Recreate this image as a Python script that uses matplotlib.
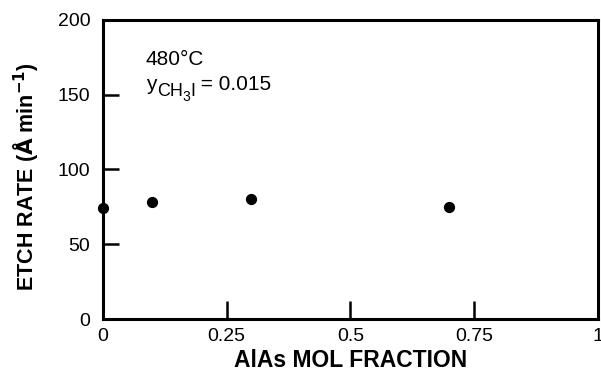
import matplotlib.pyplot as plt

# AlAs mol fraction vs etch rate at 480 C
alas_frac = [0.0, 0.1, 0.3, 0.7]
etch_rate = [74, 78.5, 80.5, 75]

x_ticks = [0, 0.25, 0.5, 0.75, 1]
x_tick_labels = ['0', '0.25', '0.5', '0.75', '1']
y_ticks = [0, 50, 100, 150, 200]

plt.rcParams['font.family'] = ['Liberation Sans', 'DejaVu Sans']

fig = plt.figure(figsize=(6.01, 3.74), dpi=100)
ax = fig.add_axes([0.171, 0.147, 0.824, 0.800])

ax.scatter(alas_frac, etch_rate, s=50, c='k', zorder=3, clip_on=False)

ax.set_xlim(0, 1)
ax.set_ylim(0, 200)
ax.set_xticks(x_ticks)
ax.set_xticklabels(x_tick_labels)
ax.set_yticks(y_ticks)
ax.tick_params(direction='in', width=1.8, labelsize=14)
ax.tick_params(axis='y', length=11.5, pad=9)
ax.tick_params(axis='x', length=13, pad=6.5)

for sp in ax.spines.values():
    sp.set_linewidth(2.2)

ax.set_xlabel('AlAs MOL FRACTION', fontsize=16.5, fontweight='bold')
ax.xaxis.set_label_coords(0.5, -0.176)
ax.xaxis.label.set_va('bottom')
ax.set_ylabel(r'ETCH RATE ($\mathbf{\AA}$ min$^{\mathbf{-1}}$)', fontsize=15.5,
              fontweight='bold')
ax.yaxis.set_label_coords(-0.125, 0.477)

ax.text(0.087, 0.85, '480°C', transform=ax.transAxes, fontsize=15, va='baseline')

# y_CH3I = 0.015, built piece by piece so the subscript stays large
t = ax.text(0.087, 0.766, 'y', transform=ax.transAxes, fontsize=15, va='baseline')
t = ax.annotate('CH', xy=(1, 0), xycoords=t, xytext=(0.3, -4.5),
                textcoords='offset points', fontsize=13, va='bottom')
t = ax.annotate('3', xy=(1, 0), xycoords=t, xytext=(0, -2.5),
                textcoords='offset points', fontsize=10, va='bottom')
t = ax.annotate('I', xy=(1, 0), xycoords=t, xytext=(0, 2.5),
                textcoords='offset points', fontsize=13, va='bottom')
ax.annotate(' = 0.015', xy=(1, 0), xycoords=t, xytext=(0, 4.5),
            textcoords='offset points', fontsize=15, va='bottom')

fig.savefig('out.png', dpi=100)
